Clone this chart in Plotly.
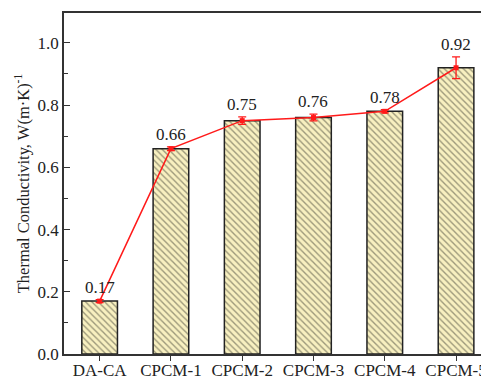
import plotly.graph_objects as go

# Samples and measured thermal conductivity, W/(m·K)
samples = ["DA-CA", "CPCM-1", "CPCM-2", "CPCM-3", "CPCM-4", "CPCM-5"]
conductivity = [0.17, 0.66, 0.75, 0.76, 0.78, 0.92]
std_error = [0.005, 0.006, 0.012, 0.011, 0.005, 0.035]
value_labels = ["0.17", "0.66", "0.75", "0.76", "0.78", "0.92"]

serif = "'Liberation Serif', 'Times New Roman', serif"

fig = go.Figure()

fig.add_trace(go.Bar(
    x=samples,
    y=conductivity,
    width=0.5,
    marker=dict(
        color="#f8f0c0",
        line=dict(color="#222222", width=1.5),
        pattern=dict(shape="\\", fgcolor="#3f3f33", bgcolor="#f8f0c0",
                     size=4.5, solidity=0.3, fillmode="overlay"),
    ),
    showlegend=False,
))

fig.add_trace(go.Scatter(
    x=samples,
    y=conductivity,
    mode="lines+markers",
    line=dict(color="#ff1a1a", width=1.5),
    marker=dict(symbol="square", size=5, color="#ff1a1a"),
    error_y=dict(type="data", array=std_error, color="#ff1a1a",
                 thickness=1.3, width=4),
    showlegend=False,
))

# Value labels above each error bar
for s, v, e, t in zip(samples, conductivity, std_error, value_labels):
    fig.add_annotation(x=s, y=v + e, text=t, showarrow=False,
                       yanchor="bottom", yshift=1,
                       font=dict(family=serif, size=17, color="#222222"))

fig.update_layout(
    width=481, height=380,
    margin=dict(l=64, r=0, t=13, b=26, autoexpand=False),
    plot_bgcolor="white", paper_bgcolor="white",
    bargap=0.5,
    font=dict(family=serif, size=16, color="#222222"),
)

fig.update_xaxes(
    range=[-0.5, 5.35],
    automargin=False,
    showline=True, linecolor="#333333", linewidth=1.5, mirror=True,
    ticks="outside", ticklen=5, tickcolor="#333333",
    ticklabelstandoff=-5,
    tickfont=dict(family=serif, size=17),
    showgrid=False,
)

fig.update_yaxes(
    range=[0, 1.096],
    automargin=False,
    tickvals=[0, 0.2, 0.4, 0.6, 0.8, 1.0],
    ticktext=["0.0", "0.2", "0.4", "0.6", "0.8", "1.0"],
    showline=True, linecolor="#333333", linewidth=1.5, mirror=False,
    ticks="inside", ticklen=6, tickcolor="#333333",
    minor=dict(tickvals=[0.1, 0.3, 0.5, 0.7, 0.9], ticks="inside",
               ticklen=4, tickcolor="#333333"),
    tickfont=dict(family=serif, size=17),
    showgrid=False, zeroline=False,
    title=dict(text="Thermal Conductivity, W(m·K)<sup>-1</sup>",
               font=dict(family=serif, size=16.5), standoff=4),
)

fig.write_html("out.html")
